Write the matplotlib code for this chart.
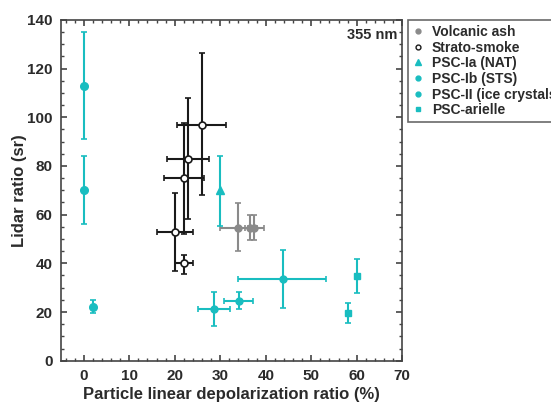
import matplotlib
matplotlib.use("Agg")
import matplotlib.pyplot as plt
from matplotlib.lines import Line2D
from matplotlib.ticker import MultipleLocator

plt.rcParams['font.family'] = ['Liberation Sans', 'DejaVu Sans']
plt.rcParams['font.weight'] = 'bold'

CYAN = '#19BDC0'
GREY = '#8a8a8a'
TXT = '#2b2b2b'

# Volcanic ash
volc_x = [34.0, 36.5, 37.4]
volc_y = [54.7, 54.7, 54.7]
volc_yerr_lo = [9.8, 5.0, 5.0]
volc_yerr_hi = [10.2, 5.3, 5.3]
volc_xerr_lo = [4.0, 1.0, 1.2]
volc_xerr_hi = [4.0, 1.0, 2.1]

# Strato-smoke
smoke_x = [20.0, 22.0, 22.0, 23.0, 26.0]
smoke_y = [53.0, 40.0, 75.0, 83.0, 97.0]
smoke_yerr_lo = [16.0, 4.3, 23.0, 25.0, 29.0]
smoke_yerr_hi = [16.0, 3.6, 22.7, 25.0, 29.5]
smoke_xerr_lo = [4.0, 1.9, 4.4, 4.7, 5.4]
smoke_xerr_hi = [4.0, 2.1, 4.5, 4.6, 5.2]

# PSC-Ia (NAT)
nat_x = [30.0]
nat_y = [70.0]
nat_yerr_lo = [14.5]
nat_yerr_hi = [14.0]

# PSC-Ib (STS)
sts_x = [0.0, 0.0, 2.0]
sts_y = [113.0, 70.0, 22.2]
sts_yerr_lo = [22.0, 14.0, 2.8]
sts_yerr_hi = [22.0, 14.0, 2.6]

# PSC-II (ice crystals)
ice_x = [28.7, 34.1, 43.7]
ice_y = [21.3, 24.7, 33.5]
ice_yerr_lo = [6.9, 3.4, 11.8]
ice_yerr_hi = [6.8, 3.4, 11.8]
ice_xerr_lo = [3.5, 3.2, 9.7]
ice_xerr_hi = [3.5, 3.0, 9.6]

# PSC-arielle
ari_x = [58.0, 60.0]
ari_y = [19.6, 34.6]
ari_yerr_lo = [4.1, 6.9]
ari_yerr_hi = [4.0, 7.0]

fig = plt.figure(figsize=(5.51, 4.03), dpi=100)
ax = fig.add_axes([61/551, 1-360.7/403, (402.3-61)/551, (360.7-19.8)/403])

ekw = dict(capsize=2.2, elinewidth=1.5, capthick=1.2, linestyle='none')
ax.errorbar(volc_x, volc_y, yerr=[volc_yerr_lo, volc_yerr_hi], xerr=[volc_xerr_lo, volc_xerr_hi],
            color=GREY, ecolor=GREY, marker='o', markersize=5, **ekw)
ax.errorbar(smoke_x, smoke_y, yerr=[smoke_yerr_lo, smoke_yerr_hi], xerr=[smoke_xerr_lo, smoke_xerr_hi],
            color='#1a1a1a', ecolor='#1a1a1a', marker='o', markersize=5, markerfacecolor='white',
            markeredgewidth=1.2, **ekw)
ax.errorbar(nat_x, nat_y, yerr=[nat_yerr_lo, nat_yerr_hi],
            color=CYAN, ecolor=CYAN, marker='^', markersize=5.5, **ekw)
ax.errorbar(sts_x, sts_y, yerr=[sts_yerr_lo, sts_yerr_hi],
            color=CYAN, ecolor=CYAN, marker='o', markersize=5.5, **ekw)
ax.errorbar(ice_x, ice_y, yerr=[ice_yerr_lo, ice_yerr_hi], xerr=[ice_xerr_lo, ice_xerr_hi],
            color=CYAN, ecolor=CYAN, marker='o', markersize=5, **ekw)
ax.errorbar(ari_x, ari_y, yerr=[ari_yerr_lo, ari_yerr_hi],
            color=CYAN, ecolor=CYAN, marker='s', markersize=4.5, **ekw)

ax.set_xlim(-5, 70)
ax.set_ylim(0, 140)
ax.xaxis.set_major_locator(MultipleLocator(10))
ax.xaxis.set_minor_locator(MultipleLocator(2))
ax.yaxis.set_major_locator(MultipleLocator(20))
ax.yaxis.set_minor_locator(MultipleLocator(5))
ax.tick_params(which='both', direction='in', top=True, right=True, colors='#444444',
               labelcolor=TXT, labelsize=11)
ax.tick_params(which='major', length=4, width=1.2, pad=6)
ax.tick_params(which='minor', length=2.5, width=1.0)
for lab in ax.get_xticklabels() + ax.get_yticklabels():
    lab.set_fontweight('bold')
for s in ax.spines.values():
    s.set_color('#444444')
    s.set_linewidth(1.2)

ax.set_xlabel('Particle linear depolarization ratio (%)', fontsize=12, fontweight='bold', color=TXT, labelpad=3)
ax.set_ylabel('Lidar ratio (sr)', fontsize=12, fontweight='bold', color=TXT, labelpad=0)
ax.text(0.985, 0.975, '355 nm', transform=ax.transAxes, ha='right', va='top',
        fontsize=10.5, fontweight='bold', color=TXT)

handles = [
    Line2D([], [], color=GREY, marker='o', markersize=3.5, linestyle='none'),
    Line2D([], [], color='#1a1a1a', marker='o', markersize=3.5, markerfacecolor='white', linestyle='none'),
    Line2D([], [], color=CYAN, marker='^', markersize=4, linestyle='none'),
    Line2D([], [], color=CYAN, marker='o', markersize=3.5, linestyle='none'),
    Line2D([], [], color=CYAN, marker='o', markersize=3.5, linestyle='none'),
    Line2D([], [], color=CYAN, marker='s', markersize=3.2, linestyle='none'),
]
labels = ['Volcanic ash', 'Strato-smoke', 'PSC-Ia (NAT)', 'PSC-Ib (STS)',
          'PSC-II (ice crystals)', 'PSC-arielle']
leg = fig.legend(handles, labels, loc='upper left', bbox_to_anchor=(407.5/551, 1-20/403),
                 frameon=True, fancybox=False, prop={'weight': 'bold', 'size': 10},
                 handlelength=0.8, handletextpad=0.6, labelspacing=0.12, borderpad=0.35,
                 borderaxespad=0)
leg.get_frame().set_edgecolor('#444444')
leg.get_frame().set_linewidth(1.2)
for t in leg.get_texts():
    t.set_color(TXT)

fig.savefig('out.png', dpi=100)
